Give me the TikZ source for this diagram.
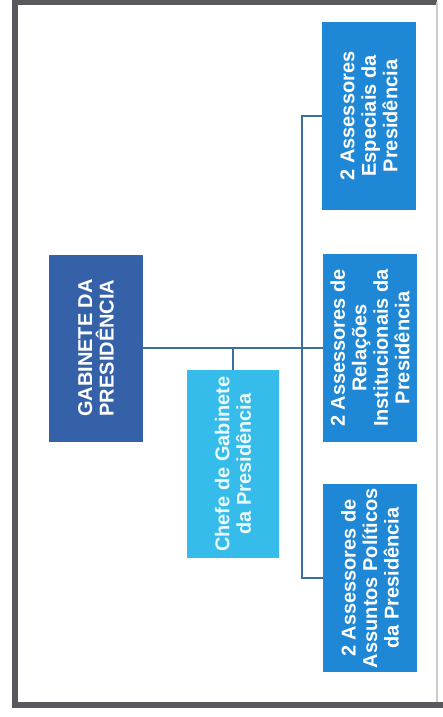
\documentclass[tikz,border=0pt]{standalone}
\usepackage{fontspec}
\setmainfont{Liberation Sans}
\begin{document}
\begin{tikzpicture}[x=1pt,y=-1pt,
  orgbox/.style={rectangle,rotate=90,inner sep=0pt,align=center,text=white,
    font=\fontsize{20}{21.5}\selectfont\bfseries},
  topbox/.style={orgbox,fill=gabblue,minimum width=187pt,minimum height=94pt},
  chefebox/.style={orgbox,fill=chefecyan,text=white!90!chefecyan,minimum width=188pt,minimum height=92pt},
  assbox/.style={orgbox,fill=assblue,minimum width=188pt,minimum height=94pt},
  link/.style={draw=linkblue,line width=1.7pt},
  frameline/.style={draw=framegray,line width=5.5pt}]
\definecolor{gabblue}{RGB}{52,97,168}
\definecolor{assblue}{RGB}{31,136,214}
\definecolor{chefecyan}{RGB}{53,188,234}
\definecolor{linkblue}{RGB}{61,110,158}
\definecolor{framegray}{RGB}{88,88,94}
\useasboundingbox (0,0) rectangle (443,717);
\fill[white] (0,0) rectangle (443,717);
% frame
\draw[frameline] (15,705) -- (15,2.5) -- (437,2.5);
\draw[frameline] (12.25,705) -- (443,705);
\draw[draw=black!20,line width=1.5pt] (437,2.5) -- (437,702);
% nodes
\node[topbox] (gab) at (96,348) {GABINETE DA\\PRESIDÊNCIA};
\node[chefebox] (chefe) at (233,464) {Chefe de Gabinete\\da Presidência};
\node[assbox] (esp) at (369,116) {2 Assessores\\Especiais da\\Presidência};
\node[assbox] (rel) at (370,348) {2 Assessores de\\Relações\\Institucionais da\\Presidência};
\node[assbox] (pol) at (370,578) {2 Assessores de\\Assuntos Políticos\\da Presidência};
% connectors
\coordinate (tt) at (302,116);
\draw[link] (gab.south) -- (rel.north);
\draw[link] (chefe.east) -- (chefe.east |- gab.south);
\draw[link] (esp.north) -- (tt) |- (pol.north);
\end{tikzpicture}
\end{document}
